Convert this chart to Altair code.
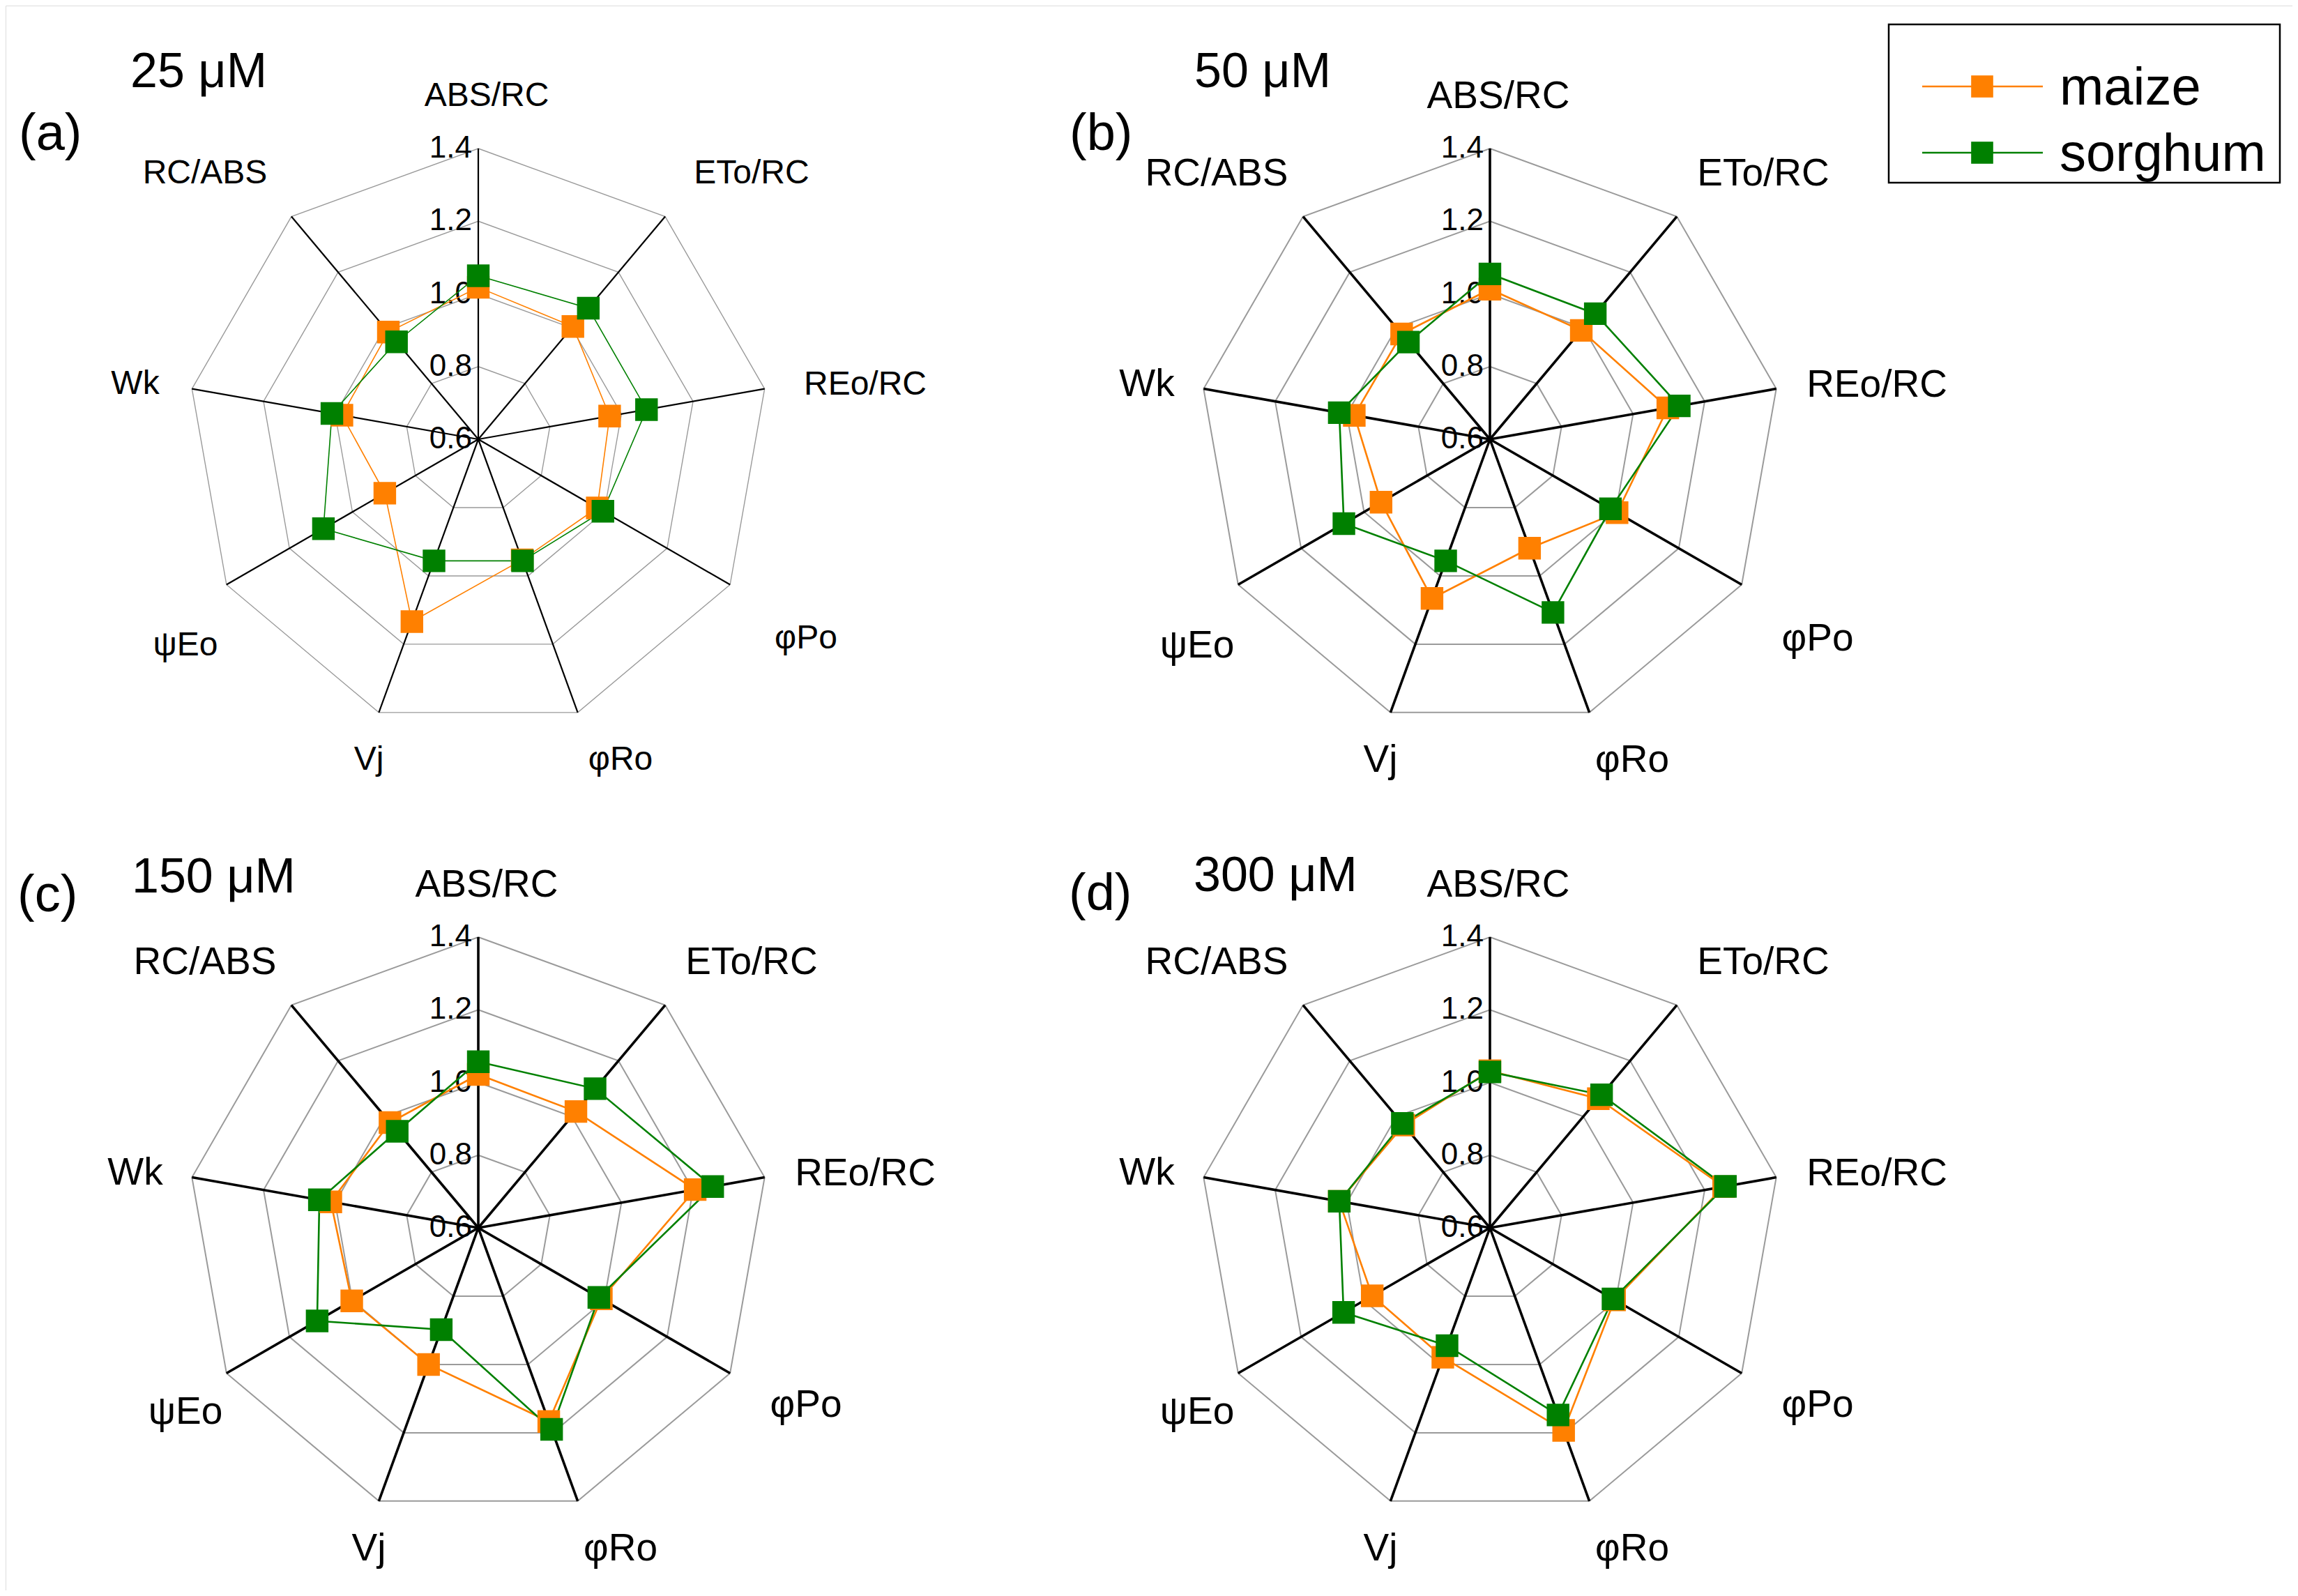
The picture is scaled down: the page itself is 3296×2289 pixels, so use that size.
import altair as alt
import pandas as pd

# ---------------- data ----------------
AXES = ["ABS/RC", "ETo/RC", "REo/RC", "φPo", "φRo", "Vj", "ψEo", "Wk", "RC/ABS"]
PANELS = ["a", "b", "c", "d"]
PANEL_LETTERS = ["(a)", "(b)", "(c)", "(d)"]
CONCENTRATIONS = ["25 μM", "50 μM", "150 μM", "300 μM"]
SPECIES = ["maize", "sorghum"]
COLORS = ["#FF8000", "#008000"]
TICKS = [0.6, 0.8, 1.0, 1.2, 1.4]
TICK_LABELS = ["0.6", "0.8", "1.0", "1.2", "1.4"]

MAIZE_25 = [1.018, 1.005, 0.967, 0.978, 0.953, 1.134, 0.897, 0.981, 0.985]
SORGHUM_25 = [1.050, 1.071, 1.070, 0.996, 0.956, 0.956, 1.092, 1.009, 0.950]
MAIZE_50 = [1.013, 0.991, 1.097, 1.004, 0.919, 1.066, 0.946, 0.979, 0.978]
SORGHUM_50 = [1.055, 1.051, 1.129, 0.983, 1.107, 0.956, 1.064, 1.021, 0.949]
MAIZE_150 = [1.022, 1.018, 1.206, 0.991, 1.167, 1.000, 1.002, 1.012, 0.978]
SORGHUM_150 = [1.057, 1.100, 1.255, 0.983, 1.190, 0.898, 1.112, 1.044, 0.947]
MAIZE_300 = [1.032, 1.064, 1.253, 0.996, 1.193, 0.979, 0.974, 1.021, 0.969]
SORGHUM_300 = [1.029, 1.078, 1.258, 0.991, 1.148, 0.945, 1.065, 1.021, 0.975]

SERIES = {
    ("a", "maize"): MAIZE_25, ("a", "sorghum"): SORGHUM_25,
    ("b", "maize"): MAIZE_50, ("b", "sorghum"): SORGHUM_50,
    ("c", "maize"): MAIZE_150, ("c", "sorghum"): SORGHUM_150,
    ("d", "maize"): MAIZE_300, ("d", "sorghum"): SORGHUM_300,
}

# ---------------- layout (pixels) ----------------
W, H = 3280, 2273
R = 417
PANEL_CX = [678, 2129, 678, 2129]
PANEL_CY = [622, 622, 1753, 1753]
PANEL_ROW = [0, 0, 1, 1]
TITLE_X = [179, 1705, 181, 1704]
TITLE_Y = [117, 117, 1272, 1270]
LETTER_X = [19, 1526, 17, 1525]
LETTER_Y = [207, 207, 1299, 1297]
LABEL_DX = [12, 392, 555, 470, 204, -157, -420, -492, -392]
LABEL_DY = [-492, -381, -78, 270, 460, 460, 280, -79, -381]
LABEL_ROW_SHIFT = [0, 0, 0, 16, 0, 0, 16, 0, 0]
FONT = "Liberation Sans"


def arr(values):
    return "[" + ",".join(str(v) for v in values) + "]"


CX_EXPR = f"{arr(PANEL_CX)}[datum.p]"
CY_EXPR = f"{arr(PANEL_CY)}[datum.p]"
ANG = "datum.k * 2 * PI / 9"

# ---------------- tables ----------------
rows = []
for si, sp in enumerate(SPECIES):
    for p, pn in enumerate(PANELS):
        for k, v in enumerate(SERIES[(pn, sp)]):
            rows.append({"panel": pn, "p": p, "species": sp, "sp": si, "k": k,
                         "axis": AXES[k], "value": v})
series_df = pd.DataFrame(rows)

ring_rows = []
for p, pn in enumerate(PANELS):
    for t in TICKS[1:]:
        for k in range(len(AXES)):
            ring_rows.append({"panel": pn, "p": p, "tick": t, "k": k})
ring_df = pd.DataFrame(ring_rows)

spoke_df = pd.DataFrame([{"panel": pn, "p": p, "k": k, "axis": AXES[k]}
                         for p, pn in enumerate(PANELS) for k in range(len(AXES))])

tick_df = pd.DataFrame([{"panel": pn, "p": p, "tick": t, "label": lab}
                        for p, pn in enumerate(PANELS) for t, lab in zip(TICKS, TICK_LABELS)])

panel_df = pd.DataFrame({"panel": PANELS, "p": list(range(4)),
                         "conc": CONCENTRATIONS, "letter": PANEL_LETTERS})

legend_df = pd.DataFrame({"species": SPECIES, "i": list(range(len(SPECIES)))})

X = lambda f: alt.X(f"{f}:Q", scale=alt.Scale(domain=[0, W], nice=False, zero=False), axis=None)
Y = lambda f: alt.Y(f"{f}:Q", scale=alt.Scale(domain=[0, H], nice=False, zero=False, reverse=True), axis=None)
color = alt.Color("species:N", scale=alt.Scale(domain=SPECIES, range=COLORS), legend=None)
is_a = alt.datum.panel == "a"

# rings
rings = alt.Chart(ring_df).transform_calculate(
    r=f"(datum.tick - 0.6) / 0.8 * {R}",
).transform_calculate(
    px=f"{CX_EXPR} + datum.r * sin({ANG})",
    py=f"{CY_EXPR} - datum.r * cos({ANG})",
).mark_line(interpolate="linear-closed", color="#9a9a9a").encode(
    x=X("px"), y=Y("py"), detail=["panel:N", "tick:Q"], order="k:Q",
    strokeWidth=alt.condition(is_a, alt.value(1.4), alt.value(2.0)),
)

# spokes
spokes = alt.Chart(spoke_df).transform_calculate(
    cx=CX_EXPR, cy=CY_EXPR,
).transform_calculate(
    ex=f"datum.cx + {R} * sin({ANG})",
    ey=f"datum.cy - {R} * cos({ANG})",
).mark_rule(color="black").encode(
    x=X("cx"), y=Y("cy"), x2="ex:Q", y2="ey:Q",
    strokeWidth=alt.condition(is_a, alt.value(2.2), alt.value(3.6)),
)

# tick labels
ticks = alt.Chart(tick_df).transform_calculate(
    tx=f"{CX_EXPR} - 9",
    ty=f"{CY_EXPR} - (datum.tick - 0.6) / 0.8 * {R}",
).mark_text(align="right", baseline="middle", font=FONT, fontSize=44, color="black").encode(
    x=X("tx"), y=Y("ty"), text="label:N",
)

# axis labels
labels = alt.Chart(spoke_df).transform_calculate(
    lx=f"{CX_EXPR} + {arr(LABEL_DX)}[datum.k]",
    ly=(f"{CY_EXPR} + {arr(LABEL_DY)}[datum.k] + "
        f"{arr(LABEL_ROW_SHIFT)}[datum.k] * (1 - 2 * {arr(PANEL_ROW)}[datum.p])"),
).mark_text(align="center", baseline="middle", font=FONT, color="black").encode(
    x=X("lx"), y=Y("ly"), text="axis:N",
    size=alt.condition(is_a, alt.value(48), alt.value(55)),
)

# series
series_base = alt.Chart(series_df).transform_calculate(
    r=f"(datum.value - 0.6) / 0.8 * {R}",
).transform_calculate(
    px=f"{CX_EXPR} + datum.r * sin({ANG})",
    py=f"{CY_EXPR} - datum.r * cos({ANG})",
)
lines = series_base.mark_line(interpolate="linear-closed").encode(
    x=X("px"), y=Y("py"), color=color, detail="panel:N", order="k:Q",
    strokeWidth=alt.condition(is_a, alt.value(1.6), alt.value(2.6)),
)
squares = series_base.mark_square(size=1050, filled=True, opacity=1).encode(
    x=X("px"), y=Y("py"), color=color, order="sp:Q",
)

# titles
titles = alt.Chart(panel_df).transform_calculate(
    tx=f"{arr(TITLE_X)}[datum.p]", ty=f"{arr(TITLE_Y)}[datum.p]",
).mark_text(align="left", baseline="alphabetic", font=FONT, fontSize=70, color="black").encode(
    x=X("tx"), y=Y("ty"), text="conc:N",
)
letters = alt.Chart(panel_df).transform_calculate(
    tx=f"{arr(LETTER_X)}[datum.p]", ty=f"{arr(LETTER_Y)}[datum.p]",
).mark_text(align="left", baseline="alphabetic", font=FONT, fontSize=74, color="black").encode(
    x=X("tx"), y=Y("ty"), text="letter:N",
)

# legend (drawn)
box = alt.Chart(pd.DataFrame({"z": [0]})).mark_rect(
    fill="white", stroke="black", strokeWidth=2.5
).encode(x=alt.value(2701), x2=alt.value(3262), y=alt.value(27), y2=alt.value(254))
leg = alt.Chart(legend_df).transform_calculate(
    ly="116 + 95 * datum.i", lx1="2749", lx2="2922", sx="2835", tx="2946", ty="116 + 95 * datum.i + 26",
)
leg_lines = leg.mark_rule(strokeWidth=2.6).encode(x=X("lx1"), x2="lx2:Q", y=Y("ly"), color=color)
leg_sq = leg.mark_square(size=1000, filled=True, opacity=1).encode(x=X("sx"), y=Y("ly"), color=color)
leg_txt = leg.mark_text(align="left", baseline="alphabetic", font=FONT, fontSize=76, color="black").encode(
    x=X("tx"), y=Y("ty"), text="species:N")

chart = alt.layer(
    rings, spokes, ticks, labels, lines, squares, titles, letters,
    box, leg_lines, leg_sq, leg_txt,
).properties(
    width=W, height=H, padding=0, autosize=alt.AutoSizeParams(type="none"),
).configure_view(stroke=None).configure(background="white")

chart.save("out.html", embed_options={"renderer": "svg", "actions": False})
